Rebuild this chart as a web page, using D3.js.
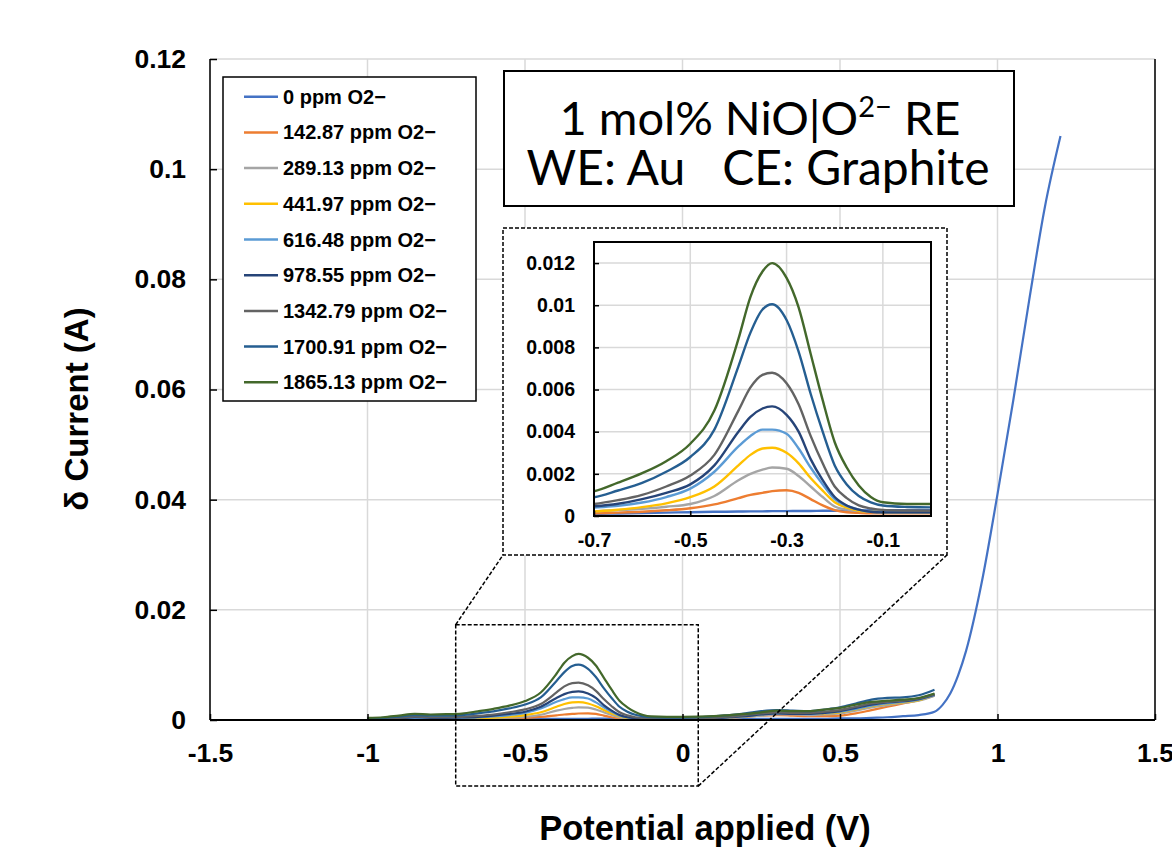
<!DOCTYPE html>
<html><head><meta charset="utf-8">
<script src="https://cdn.jsdelivr.net/npm/d3@7"></script>
<style>body{margin:0;background:#fff} svg{display:block}</style>
</head><body>
<svg id="c" width="1172" height="855"></svg>
<script>
// ---------------- DATA ----------------
const potential = [-1.0,-0.95,-0.9,-0.85,-0.8,-0.75,-0.7,-0.65,-0.6,-0.55,-0.5,-0.45,-0.4,
  -0.375,-0.35,-0.33,-0.3,-0.275,-0.25,-0.225,-0.2,-0.175,-0.15,-0.125,-0.1,
  -0.05,0,
  0.05,0.1,0.15,0.2,0.25,0.3,0.35,0.4,0.45,0.5,0.55,0.6,0.65,0.7,0.75,0.8];
const potentialHigh = [0.825,0.85,0.875,0.9,0.95,1.0,1.05,1.1,1.15,1.2];

const seriesLabels = ["0 ppm O2\u2212","142.87 ppm O2\u2212","289.13 ppm O2\u2212","441.97 ppm O2\u2212",
  "616.48 ppm O2\u2212","978.55 ppm O2\u2212","1342.79 ppm O2\u2212","1700.91 ppm O2\u2212","1865.13 ppm O2\u2212"];

const current0 = [0.0,0.0,0.0001,0.0001,0.0001,0.0001,0.0001,0.00012,0.00014,0.00016,0.00018,0.0002,0.00021,
  0.00022,0.00022,0.00023,0.00023,0.00024,0.00024,0.00025,0.00025,0.00026,0.00026,0.00027,0.00027,
  0.00028,0.00028,
  0.00025,0.0002,0.0002,0.0002,0.0002,0.0002,0.0002,0.0002,0.0002,0.0003,0.0003,0.0004,0.0005,0.0007,0.0009,0.0015,
  0.0027,0.0048,0.0081,0.0125,0.025,0.041,0.058,0.076,0.093,0.106];
const current142 = [0.0,0.0001,0.0001,0.0002,0.0001,0.0001,0.00013,0.00016,0.0002,0.00027,0.00037,0.00055,0.00085,
  0.001,0.0011,0.00118,0.00122,0.0011,0.0008,0.0005,0.00028,0.00018,0.00015,0.00013,0.00013,
  0.00013,0.00013,
  0.0002,0.0003,0.0004,0.0006,0.0008,0.0009,0.0008,0.0007,0.0007,0.0008,0.0012,0.0018,0.0024,0.0030,0.0036,0.0044];
const current289 = [0.0001,0.0001,0.0002,0.0002,0.0002,0.0002,0.00022,0.00028,0.00034,0.00044,0.00057,0.00095,0.0017,
  0.002,0.0022,0.0023,0.00224,0.0019,0.0014,0.0009,0.00045,0.0003,0.00024,0.00022,0.00022,
  0.00022,0.00022,
  0.0002,0.0003,0.0004,0.0006,0.0008,0.0010,0.0010,0.0009,0.0010,0.0012,0.0017,0.0023,0.0027,0.0031,0.0035,0.0044];
const current442 = [0.0001,0.0001,0.0002,0.0003,0.0002,0.0002,0.00022,0.0003,0.00042,0.0006,0.00089,0.0014,0.0024,
  0.0029,0.0032,0.00324,0.0030,0.0025,0.0018,0.0012,0.00065,0.0004,0.00025,0.0002,0.00018,
  0.00017,0.00017,
  0.0002,0.0003,0.0005,0.0007,0.001,0.0013,0.0012,0.0011,0.0012,0.0014,0.0019,0.0025,0.0029,0.0032,0.0036,0.0046];
const current616 = [0.0001,0.0002,0.0003,0.0004,0.0003,0.0003,0.0004,0.00048,0.00064,0.0009,0.0013,0.0021,0.0033,
  0.0038,0.0041,0.0041,0.0039,0.0032,0.0023,0.0015,0.0008,0.00048,0.0003,0.0002,0.00018,
  0.00017,0.00017,
  0.0002,0.0003,0.0005,0.0007,0.0010,0.0012,0.0011,0.0011,0.0013,0.0015,0.0020,0.0026,0.0030,0.0033,0.0037,0.0045];
const current979 = [0.0001,0.0002,0.0003,0.0005,0.0004,0.0004,0.00046,0.00058,0.0008,0.0011,0.0015,0.0024,0.0040,
  0.0047,0.0051,0.0052,0.0048,0.0040,0.0027,0.0017,0.0009,0.0005,0.0003,0.0002,0.00017,
  0.00017,0.00017,
  0.0002,0.0003,0.0005,0.0007,0.001,0.0012,0.0011,0.0011,0.0013,0.0016,0.0022,0.0028,0.0032,0.0034,0.0038,0.0046];
const current1343 = [0.0002,0.0003,0.0004,0.0006,0.0005,0.0005,0.00057,0.00075,0.001,0.0014,0.00192,0.0029,0.0050,
  0.0061,0.0067,0.0068,0.0063,0.0053,0.0038,0.0025,0.0014,0.00085,0.0005,0.00036,0.00029,
  0.00026,0.00025,
  0.0003,0.0004,0.0006,0.0009,0.0012,0.0014,0.0013,0.0013,0.0015,0.0018,0.0024,0.0030,0.0033,0.0035,0.0039,0.0047];
const current1701 = [0.0003,0.0004,0.0006,0.0009,0.0008,0.0008,0.00089,0.00121,0.00157,0.0021,0.0028,0.0041,0.0071,
  0.0087,0.0098,0.01005,0.0093,0.0078,0.0058,0.0040,0.0024,0.0015,0.00095,0.00065,0.0005,
  0.00043,0.00041,
  0.0005,0.0007,0.0009,0.0012,0.0016,0.0018,0.0017,0.0016,0.0019,0.0023,0.0030,0.0037,0.0040,0.0041,0.0045,0.0055];
const current1865 = [0.0004,0.0005,0.0008,0.0011,0.0010,0.00105,0.00117,0.00158,0.00203,0.0026,0.00343,0.0050,0.0084,
  0.0104,0.0116,0.0120,0.0113,0.0099,0.0077,0.0055,0.0035,0.0023,0.00145,0.0009,0.00065,
  0.00057,0.00057,
  0.0006,0.0007,0.0009,0.0011,0.0014,0.0017,0.0016,0.0016,0.0019,0.0022,0.0028,0.0033,0.0035,0.0037,0.0040,0.0048];

const seriesValues = [current0,current142,current289,current442,current616,current979,current1343,current1701,current1865];
const seriesColors = ["#4472C4","#ED7D31","#A5A5A5","#FFC000","#5B9BD5","#264478","#636363","#255E91","#43682B"];

const xTicks = [-1.5,-1,-0.5,0,0.5,1,1.5];
const yTicks = [0,0.02,0.04,0.06,0.08,0.1,0.12];
const insetXTicks = [-0.7,-0.5,-0.3,-0.1];
const insetYTicks = [0,0.002,0.004,0.006,0.008,0.01,0.012];
const zoomRegion = {x0:-0.72, x1:0.05, y0:-0.012, y1:0.0173};

// ---------------- CHART ----------------
const svg = d3.select('#c');
const FONT = "'Liberation Sans', Arial, sans-serif";
const allX = potential.concat(potentialHigh);
const seriesData = seriesValues.map((vals,i)=>vals.map((v,j)=>({x:allX[j], y:v})));

const P = {l:210, r:1155, t:59, b:720};
const x = d3.scaleLinear().domain([-1.5,1.5]).range([P.l,P.r]);
const y = d3.scaleLinear().domain([0,0.12]).range([P.b,P.t]);

// grid
svg.append('g').selectAll('line').data(xTicks).join('line')
  .attr('x1',d=>x(d)).attr('x2',d=>x(d)).attr('y1',P.t).attr('y2',P.b)
  .attr('stroke','#d9d9d9').attr('stroke-width',1.5);
svg.append('g').selectAll('line').data(yTicks).join('line')
  .attr('x1',P.l).attr('x2',P.r).attr('y1',d=>y(d)).attr('y2',d=>y(d))
  .attr('stroke','#d9d9d9').attr('stroke-width',1.5);

// series
const line = d3.line().x(d=>x(d.x)).y(d=>y(d.y)).curve(d3.curveMonotoneX);
svg.append('g').selectAll('path').data(seriesData).join('path')
  .attr('d',line).attr('fill','none')
  .attr('stroke',(d,i)=>seriesColors[i]).attr('stroke-width',2.2);

// axes
const yAx = svg.append('g').attr('transform',`translate(${P.l},0)`)
  .call(d3.axisLeft(y).tickValues(yTicks).tickFormat(d=>String(d)).tickSize(-7).tickPadding(24));
const xAx = svg.append('g').attr('transform',`translate(0,${P.b})`)
  .call(d3.axisBottom(x).tickValues(xTicks).tickFormat(d=>String(d)).tickSize(-6).tickPadding(23));
[yAx,xAx].forEach(g=>{
  g.select('.domain').remove();
  g.selectAll('.tick line').attr('stroke','#000').attr('stroke-width',1.5);
  g.selectAll('text').attr('font-family',FONT).attr('font-weight','bold').attr('font-size',26.5).attr('fill','#000');
});
svg.append('line').attr('x1',P.l).attr('x2',P.l).attr('y1',P.t).attr('y2',P.b).attr('stroke','#000').attr('stroke-width',1.5);
svg.append('line').attr('x1',P.r).attr('x2',P.r).attr('y1',P.t).attr('y2',P.b).attr('stroke','#000').attr('stroke-width',1.5);
svg.append('line').attr('x1',P.l).attr('x2',P.r).attr('y1',P.b).attr('y2',P.b).attr('stroke','#000').attr('stroke-width',2.2);

// axis titles
svg.append('text').attr('transform',`translate(88,409) rotate(-90)`).attr('text-anchor','middle')
  .attr('font-family',FONT).attr('font-weight','bold').attr('font-size',33).text('\u03b4 Current (A)');
svg.append('text').attr('x',705).attr('y',840).attr('text-anchor','middle')
  .attr('font-family',FONT).attr('font-weight','bold').attr('font-size',34.5).text('Potential applied (V)');

// zoom rectangle + connectors
const zx0 = x(zoomRegion.x0), zx1 = x(zoomRegion.x1), zy0 = y(zoomRegion.y0), zy1 = y(zoomRegion.y1);
const I = {ol:503, or:947, ot:228, ob:555, l:594, r:931, t:242, b:516};
svg.append('rect').attr('x',zx0).attr('y',zy1).attr('width',zx1-zx0).attr('height',zy0-zy1)
  .attr('fill','none').attr('stroke','#000').attr('stroke-width',1.5).attr('stroke-dasharray','4,2');
svg.append('line').attr('x1',zx0).attr('y1',zy1).attr('x2',I.ol).attr('y2',I.ob)
  .attr('stroke','#000').attr('stroke-width',1.5).attr('stroke-dasharray','4,2');
svg.append('line').attr('x1',zx1).attr('y1',zy0).attr('x2',I.or).attr('y2',I.ob)
  .attr('stroke','#000').attr('stroke-width',1.5).attr('stroke-dasharray','4,2');

// inset
svg.append('rect').attr('x',I.ol).attr('y',I.ot).attr('width',I.or-I.ol).attr('height',I.ob-I.ot)
  .attr('fill','#fff').attr('stroke','#000').attr('stroke-width',1.5).attr('stroke-dasharray','4,2');
const xi = d3.scaleLinear().domain([-0.7,0]).range([I.l,I.r]);
const yi = d3.scaleLinear().domain([0,0.013]).range([I.b,I.t]);
svg.append('g').selectAll('line').data(insetXTicks).join('line')
  .attr('x1',d=>xi(d)).attr('x2',d=>xi(d)).attr('y1',I.t).attr('y2',I.b).attr('stroke','#d9d9d9').attr('stroke-width',1.5);
svg.append('g').selectAll('line').data(insetYTicks).join('line')
  .attr('x1',I.l).attr('x2',I.r).attr('y1',d=>yi(d)).attr('y2',d=>yi(d)).attr('stroke','#d9d9d9').attr('stroke-width',1.5);
svg.append('clipPath').attr('id','ic').append('rect').attr('x',I.l).attr('y',I.t).attr('width',I.r-I.l).attr('height',I.b-I.t);
const lineI = d3.line().x(d=>xi(d.x)).y(d=>yi(d.y)).curve(d3.curveMonotoneX);
svg.append('g').attr('clip-path','url(#ic)').selectAll('path').data(seriesData).join('path')
  .attr('d',lineI).attr('fill','none').attr('stroke',(d,i)=>seriesColors[i]).attr('stroke-width',2.4);
const yiAx = svg.append('g').attr('transform',`translate(${I.l},0)`)
  .call(d3.axisLeft(yi).tickValues(insetYTicks).tickFormat(d=>String(d)).tickSize(-5).tickPadding(19));
const xiAx = svg.append('g').attr('transform',`translate(0,${I.b})`)
  .call(d3.axisBottom(xi).tickValues(insetXTicks).tickFormat(d=>String(d)).tickSize(-5).tickPadding(17));
[yiAx,xiAx].forEach(g=>{
  g.select('.domain').remove();
  g.selectAll('.tick line').attr('stroke','#000').attr('stroke-width',1.5);
  g.selectAll('text').attr('font-family',FONT).attr('font-weight','bold').attr('font-size',19.5).attr('fill','#000');
});
svg.append('rect').attr('x',I.l).attr('y',I.t).attr('width',I.r-I.l).attr('height',I.b-I.t)
  .attr('fill','none').attr('stroke','#000').attr('stroke-width',2);

// title box
svg.append('rect').attr('x',504).attr('y',71).attr('width',510).attr('height',135)
  .attr('fill','#fff').attr('stroke','#000').attr('stroke-width',2);
const t1 = svg.append('text').attr('x',760).attr('y',135).attr('text-anchor','middle')
  .attr('font-family',"Lato, 'Open Sans', sans-serif").attr('font-size',47).attr('fill','#000');
t1.append('tspan').text('1 mol% NiO|O');
t1.append('tspan').attr('font-size',29).attr('dy',-18).text('2\u2212');
t1.append('tspan').attr('dy',18).text(' RE');
svg.append('text').attr('x',758).attr('y',185).attr('text-anchor','middle').attr('xml:space','preserve')
  .attr('font-family',"Lato, 'Open Sans', sans-serif").attr('font-size',48).attr('fill','#000')
  .text('WE: Au   CE: Graphite');

// legend
svg.append('rect').attr('x',223).attr('y',77).attr('width',253).attr('height',324)
  .attr('fill','#fff').attr('stroke','#000').attr('stroke-width',1.5);
const leg = svg.append('g').selectAll('g').data(seriesLabels).join('g')
  .attr('transform',(d,i)=>`translate(0,${96.7 + i*35.7})`);
leg.append('line').attr('x1',244).attr('x2',278).attr('y1',0).attr('y2',0)
  .attr('stroke',(d,i)=>seriesColors[i]).attr('stroke-width',2.5);
leg.append('text').attr('x',283).attr('y',7).attr('font-family',FONT).attr('font-weight','bold')
  .attr('font-size',20).text(d=>d);
</script>
</body></html>
